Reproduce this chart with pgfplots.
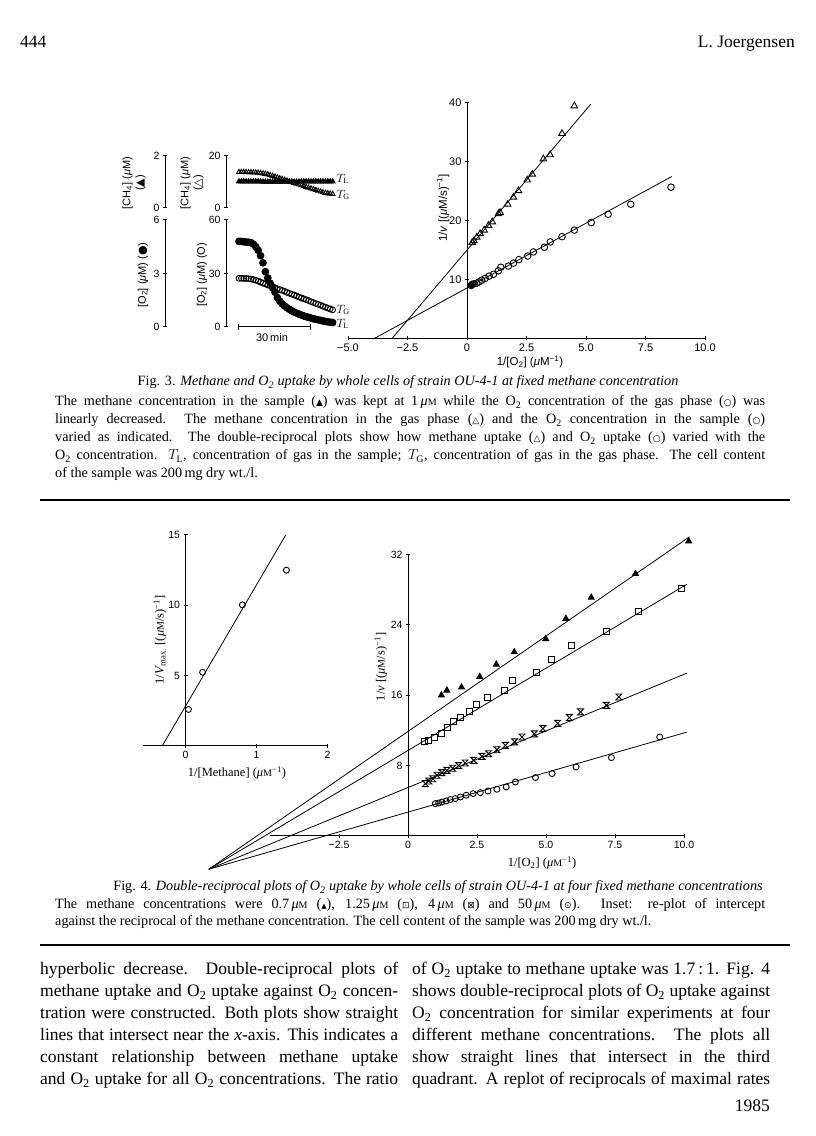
\documentclass[border=0pt]{standalone}
\usepackage{pgfplots}
\pgfplotsset{compat=1.18}
\usepackage{fontspec}
\setmainfont{Liberation Serif}
\setsansfont{Liberation Sans}
\newfontfamily\dv{DejaVu Sans}

\pgfdeclareplotmark{hourglass}{%
 \pgfpathmoveto{\pgfqpoint{-\pgfplotmarksize}{\pgfplotmarksize}}%
 \pgfpathlineto{\pgfqpoint{\pgfplotmarksize}{\pgfplotmarksize}}%
 \pgfpathlineto{\pgfqpoint{-\pgfplotmarksize}{-\pgfplotmarksize}}%
 \pgfpathlineto{\pgfqpoint{\pgfplotmarksize}{-\pgfplotmarksize}}%
 \pgfpathclose
 \pgfusepathqstroke}

\pgfplotsset{
  pg/.style={scale only axis, clip=false, anchor=south west,
    tick style={black, line width=1pt},
    major tick length=4pt, tick align=inside,
    /pgf/number format/assume math mode=true,
    tick label style={font=\sffamily\fontsize{10.5}{12}\selectfont},
    hide obscured x ticks=false, hide obscured y ticks=false},
  noarrow/.style={axis line style={-, line width=1pt},
    every inner x axis line/.append style={-},
    every outer x axis line/.append style={-},
    every inner y axis line/.append style={-},
    every outer y axis line/.append style={-}},
  mk/.style={only marks, mark options={solid, line width=0.9pt}},
  fl/.style={black, line width=0.8pt, mark=none},
}

\newcommand{\jl}[4]{\node[anchor=base west,inner sep=0pt] at (#1,{1136-#2}) {\makebox[#3pt][s]{#4}};}
\newcommand{\lline}[3]{\node[anchor=base west,inner sep=0pt] at (#1,{1136-#2}) {#3};}
\newcommand{\uM}{\textit{μ}{\fontsize{10}{10}\selectfont M}}
\newcommand{\Ot}{O\textsubscript{2}}

\begin{document}
\begin{tikzpicture}[x=1pt,y=1pt]
\path[use as bounding box] (0,0) rectangle (816,1136);
\fill[white] (0,0) rectangle (816,1136);

% ---------- header ----------
\begin{scope}[font=\fontsize{17.5}{20}\selectfont]
\lline{20}{48}{444}
\node[anchor=base east,inner sep=0pt] at (795,{1136-48}) {L. Joergensen};
\end{scope}

% ---------- Fig 3 main ----------
\begin{axis}[pg, at={(348pt,797.5pt)}, width=357pt, height=235.5pt,
  xmin=-5,xmax=10,ymin=0,ymax=40, axis x line=bottom, axis y line=center, noarrow,
  xtick={-5,-2.5,0,2.5,5,7.5,10}, xticklabels={−5.0,−2.5,0,2.5,5.0,7.5,10.0},
  ytick={10,20,30,40},
  tick label style={font=\sffamily\fontsize{11}{12}\selectfont}]
\addplot[fl] coordinates {(-3.15,0) (5.2,39.8)};
\addplot[fl] coordinates {(-3.9,0) (8.6,27.5)};
\addplot[mk, mark=triangle, mark size=3.8pt] coordinates {
(0.22,16.3)(0.29,16.6)(0.41,17.2)(0.55,17.8)(0.72,18.4)(0.90,19.2)(1.06,19.8)(1.32,21.2)(1.39,21.4)(1.71,22.8)(1.95,24.0)(2.16,25.1)(2.53,26.9)(2.74,27.9)(3.21,30.5)(3.49,31.2)(3.99,34.8)(4.51,39.5)};
\addplot[mk, mark=o, mark size=3.3pt] coordinates {
(0.22,9.2)(0.31,9.3)(0.41,9.4)(0.50,9.6)(0.62,9.9)(0.76,10.2)(0.93,10.6)(1.11,10.9)(1.32,11.5)(1.42,12.1)(1.74,12.3)(1.95,12.8)(2.18,13.4)(2.55,14.0)(2.79,14.7)(3.25,15.5)(3.50,16.4)(3.99,17.3)(4.51,18.4)(5.22,19.7)(5.93,21.1)(6.88,22.8)(8.57,25.7)};
\addplot[mk, mark=*, mark size=3.3pt] coordinates {(0.17,9.0)};
\end{axis}
\node[rotate=90, font=\sffamily\fontsize{11.5}{13}\selectfont] at (443,{1136-208}) {1/\textit{v} [(\textit{μ}M/s)\textsuperscript{−1}]};
\node[font=\sffamily\fontsize{11.5}{13}\selectfont] at (530,{1136-362}) {1/[\Ot] (\textit{μ}M\textsuperscript{−1})};

% ---------- Fig 3 left panels ----------
\begin{axis}[pg, at={(165pt,928pt)}, width=4pt, height=52pt, xmin=0,xmax=1,ymin=0,ymax=2,
  axis x line=none, axis y line=left, noarrow, ytick={0,2}]
\end{axis}
\begin{axis}[pg, at={(165pt,809pt)}, width=4pt, height=107pt, xmin=0,xmax=1,ymin=0,ymax=6,
  axis x line=none, axis y line=left, noarrow, ytick={0,3,6}]
\end{axis}
\begin{axis}[pg, at={(226pt,928pt)}, width=109pt, height=52pt, xmin=-5.4,xmax=40,ymin=0,ymax=20,
  axis x line=none, axis y line=left, noarrow, ytick={0,20}]
\addplot[mk, mark=triangle, mark size=2.8pt] coordinates {
(0,13.8)(1,13.8)(2,13.8)(3,13.7)(4,13.7)(5,13.7)(6,13.6)(7,13.6)(8,13.5)(9,13.4)(10,13.3)(11,13.1)(12,12.9)(13,12.6)(14,12.3)(15,12.0)(16,11.7)(17,11.4)(18,11.1)(19,10.8)(20,10.5)(21,10.2)(22,9.9)(23,9.6)(24,9.3)(25,9.0)(26,8.7)(27,8.4)(28,8.1)(29,7.8)(30,7.5)(31,7.2)(32,6.9)(33,6.6)(34,6.3)(35,6.0)(36,5.8)(37,5.6)(38,5.5)(39,5.4)};
\addplot[mk, mark=triangle*, mark size=2.8pt] coordinates {
(0,10.2)(1,10.2)(2,10.2)(3,10.2)(4,10.2)(5,10.2)(6,10.2)(7,10.2)(8,10.2)(9,10.2)(10,10.1)(11,10.1)(12,10.1)(13,10.1)(14,10.1)(15,10.1)(16,10.1)(17,10.1)(18,10.1)(19,10.1)(20,10.1)(21,10.1)(22,10.1)(23,10.1)(24,10.1)(25,10.1)(26,10.2)(27,10.2)(28,10.2)(29,10.2)(30,10.2)(31,10.2)(32,10.2)(33,10.2)(34,10.2)(35,10.2)(36,10.2)(37,10.2)(38,10.2)(39,10.2)};
\end{axis}
\begin{axis}[pg, at={(226pt,809pt)}, width=109pt, height=107pt, xmin=-5.4,xmax=40,ymin=0,ymax=60,
  axis x line=none, axis y line=left, noarrow, ytick={0,30,60}]
\addplot[mk, mark=o, mark size=2.9pt] coordinates {
(0,27.3)(1,27.3)(2,27.2)(3,27.2)(4,27.1)(5,26.9)(6,26.6)(7,26.2)(8,25.7)(9,25.2)(10,24.6)(11,24.1)(12,23.6)(13,23.1)(14,22.6)(15,22.0)(16,21.5)(17,21.0)(18,20.5)(19,20.0)(20,19.4)(21,18.9)(22,18.4)(23,17.9)(24,17.4)(25,16.8)(26,16.3)(27,15.8)(28,15.3)(29,14.8)(30,14.2)(31,13.7)(32,13.2)(33,12.7)(34,12.2)(35,11.6)(36,11.1)(37,10.6)(38,10.1)(39,9.6)};
\addplot[mk, mark=*, mark size=3.4pt] coordinates {
(0,48)(1,48)(2,47.8)(3,47.6)(4,47.5)(5,47.3)(6,46.5)(7,45)(8,43)(9,40)(10,36)(11,31)(12,27.5)(13,24.5)(14,22)(15,19.5)(16,16.5)(17,14.5)(18,13)(19,11.8)(20,10.8)(21,9.9)(22,9.1)(23,8.4)(24,7.8)(25,7.2)(26,6.7)(27,6.2)(28,5.8)(29,5.4)(30,5.0)(31,4.6)(32,4.3)(33,4.0)(34,3.7)(35,3.4)(36,3.1)(37,2.9)(38,2.7)(39,2.5)};
\draw[line width=1pt] (axis cs:0,0) -- (axis cs:30,0);
\draw[line width=1pt] ([yshift=-3pt]axis cs:0,0) -- ([yshift=3pt]axis cs:0,0);
\draw[line width=1pt] ([yshift=-3pt]axis cs:30,0) -- ([yshift=3pt]axis cs:30,0);
\end{axis}
\begin{scope}[font=\sffamily\fontsize{11}{13}\selectfont]
\node[rotate=90, align=center] at (134,{1136-183}) {[CH\textsubscript{4}] (\textit{μ}M)\\({\dv ▲})};
\node[rotate=90, align=center] at (192,{1136-183}) {[CH\textsubscript{4}] (\textit{μ}M)\\({\dv △})};
\node[rotate=90] at (143,{1136-275}) {[\Ot] (\textit{μ}M) ({\dv ●})};
\node[rotate=90] at (202,{1136-275}) {[\Ot] (\textit{μ}M) (O)};
\node at (272,{1136-338}) {30\,min};
\end{scope}
\begin{scope}[font=\fontsize{12}{14}\selectfont]
\node[anchor=west] at (333,{1136-179}) {$T_{\mathrm{L}}$};
\node[anchor=west] at (333,{1136-195}) {$T_{\mathrm{G}}$};
\node[anchor=west] at (333,{1136-310}) {$T_{\mathrm{G}}$};
\node[anchor=west] at (333,{1136-324}) {$T_{\mathrm{L}}$};
\end{scope}

% ---------- Fig 3 caption ----------
\begin{scope}[font=\fontsize{14.2}{17}\selectfont]
\node[anchor=base,inner sep=0pt] at (408,{1136-386}) {Fig. 3. \textit{Methane and \Ot{} uptake by whole cells of strain OU-4-1 at fixed methane concentration}};
\jl{55}{406}{710}{The methane concentration in the sample ({\dv\small ▲}) was kept at 1\,\uM{} while the \Ot{} concentration of the gas phase ({\dv\small ○}) was}
\jl{55}{424}{710}{linearly decreased. The methane concentration in the gas phase ({\dv\small △}) and the \Ot{} concentration in the sample ({\dv\small ○})}
\jl{55}{442}{710}{varied as indicated. The double-reciprocal plots show how methane uptake ({\dv\small △}) and \Ot{} uptake ({\dv\small ○}) varied with the}
\jl{55}{460}{710}{\Ot{} concentration. $T_{\mathrm{L}}$, concentration of gas in the sample; $T_{\mathrm{G}}$, concentration of gas in the gas phase. The cell content}
\lline{55}{478}{of the sample was 200\,mg dry wt./l.}
\end{scope}
\draw[line width=1.3pt] (40,{1136-500}) -- (790,{1136-500});

% ---------- Fig 4 inset ----------
\begin{axis}[pg, at={(143pt,390pt)}, width=184.6pt, height=211pt,
  xmin=-0.6,xmax=2,ymin=0,ymax=15, axis x line=bottom, axis y line=center, noarrow,
  xtick={0,1,2}, ytick={5,10,15}]
\addplot[fl] coordinates {(-0.33,0) (1.41,15)};
\addplot[mk, mark=o, mark size=3pt] coordinates {(0.04,2.6)(0.24,5.24)(0.80,10.03)(1.42,12.5)};
\end{axis}
\node[font=\fontsize{12.5}{14}\selectfont] at (237,{1136-773}) {1/[Methane] (\uM\textsuperscript{−1})};
\node[rotate=90, font=\fontsize{12.5}{14}\selectfont] at (160,{1136-640}) {1/\textit{V}\textsubscript{max.} [(\uM/s)\textsuperscript{−1}]};

% ---------- Fig 4 main ----------
\begin{axis}[pg, at={(270pt,300pt)}, width=414pt, height=281.6pt,
  xmin=-5,xmax=10,ymin=0,ymax=32, axis x line=bottom, axis y line=center, noarrow,
  xtick={-2.5,0,2.5,5,7.5,10}, xticklabels={−2.5,0,2.5,5.0,7.5,10.0},
  ytick={8,16,24,32}]
\addplot[fl] coordinates {(-7.22,-3.78) (10.2,34.0)};
\addplot[fl] coordinates {(-7.22,-3.78) (10.1,28.6)};
\addplot[fl] coordinates {(-7.22,-3.78) (10.1,18.5)};
\addplot[fl] coordinates {(-7.22,-3.78) (10.1,11.8)};
\addplot[mk, mark=triangle*, mark size=3.4pt] coordinates {
(1.21,16.0)(1.41,16.55)(1.94,16.9)(2.60,18.1)(3.20,19.5)(3.85,20.9)(4.99,22.4)(5.72,24.7)(6.64,27.1)(8.24,29.8)(10.17,33.5)};
\addplot[mk, mark=square, mark size=3pt] coordinates {
(0.60,10.7)(0.75,10.9)(0.95,11.25)(1.21,11.7)(1.44,12.3)(1.63,13.0)(1.90,13.5)(2.24,14.1)(2.48,14.9)(2.88,15.7)(3.49,16.5)(3.80,17.7)(4.66,18.6)(5.20,20.1)(5.91,21.6)(7.19,23.3)(8.35,25.5)(9.89,28.1)};
\addplot[mk, mark=hourglass, mark size=3pt] coordinates {
(0.63,5.95)(0.75,6.25)(0.90,6.5)(1.05,6.9)(1.23,7.2)(1.41,7.45)(1.62,7.7)(1.83,8.0)(2.07,8.3)(2.38,8.6)(2.68,9.05)(2.92,9.35)(3.22,9.8)(3.53,10.3)(3.86,10.7)(4.13,11.25)(4.58,11.6)(4.89,12.2)(5.42,12.8)(5.85,13.45)(6.25,14.1)(7.19,14.85)(7.64,15.8)};
\addplot[mk, mark=o, mark size=3pt] coordinates {
(0.99,3.68)(1.11,3.75)(1.23,3.86)(1.38,3.98)(1.53,4.14)(1.71,4.25)(1.90,4.43)(2.11,4.63)(2.36,4.82)(2.62,4.93)(2.90,5.11)(3.22,5.31)(3.56,5.57)(3.89,6.14)(4.62,6.64)(5.22,7.09)(6.09,7.84)(7.37,8.91)(9.12,11.25)};
\end{axis}
\node[font=\fontsize{12.5}{14}\selectfont] at (542,{1136-863}) {1/[\Ot] (\uM\textsuperscript{−1})};
\node[rotate=90, font=\fontsize{12.5}{14}\selectfont] at (381,{1136-667}) {1/\textit{v} [(\uM/s)\textsuperscript{−1}]};

% ---------- Fig 4 caption ----------
\begin{scope}[font=\fontsize{14.2}{17}\selectfont]
\node[anchor=base,inner sep=0pt] at (438,{1136-891}) {Fig. 4. \textit{Double-reciprocal plots of \Ot{} uptake by whole cells of strain OU-4-1 at four fixed methane concentrations}};
\jl{55}{909}{710}{The methane concentrations were 0.7\,\uM{} ({\dv\scriptsize ▲}), 1.25\,\uM{} ({\dv\small ⊡}), 4\,\uM{} ({\dv\small ⊠}) and 50\,\uM{} ({\dv\small ⊙}). Inset: re-plot of intercept}
\lline{55}{926}{against the reciprocal of the methane concentration. The cell content of the sample was 200\,mg dry wt./l.}
\end{scope}
\draw[line width=1.3pt] (40,{1136-945}) -- (790,{1136-945});

% ---------- body text ----------
\begin{scope}[font=\fontsize{17.5}{20}\selectfont]
\jl{40}{975}{358}{hyperbolic decrease. Double-reciprocal plots of}
\jl{40}{997}{358}{methane uptake and \Ot{} uptake against \Ot{} concen-}
\jl{40}{1019}{358}{tration were constructed. Both plots show straight}
\jl{40}{1041}{358}{lines that intersect near the \textit{x}-axis. This indicates a}
\jl{40}{1063}{358}{constant relationship between methane uptake}
\jl{40}{1085}{358}{and \Ot{} uptake for all \Ot{} concentrations. The ratio}
\jl{412}{975}{358}{of \Ot{} uptake to methane uptake was 1.7\,:\,1. Fig. 4}
\jl{412}{997}{358}{shows double-reciprocal plots of \Ot{} uptake against}
\jl{412}{1019}{358}{\Ot{} concentration for similar experiments at four}
\jl{412}{1041}{358}{different methane concentrations. The plots all}
\jl{412}{1063}{358}{show straight lines that intersect in the third}
\jl{412}{1085}{358}{quadrant. A replot of reciprocals of maximal rates}
\node[anchor=base east,inner sep=0pt] at (770,{1136-1112}) {1985};
\end{scope}
\end{tikzpicture}
\end{document}
